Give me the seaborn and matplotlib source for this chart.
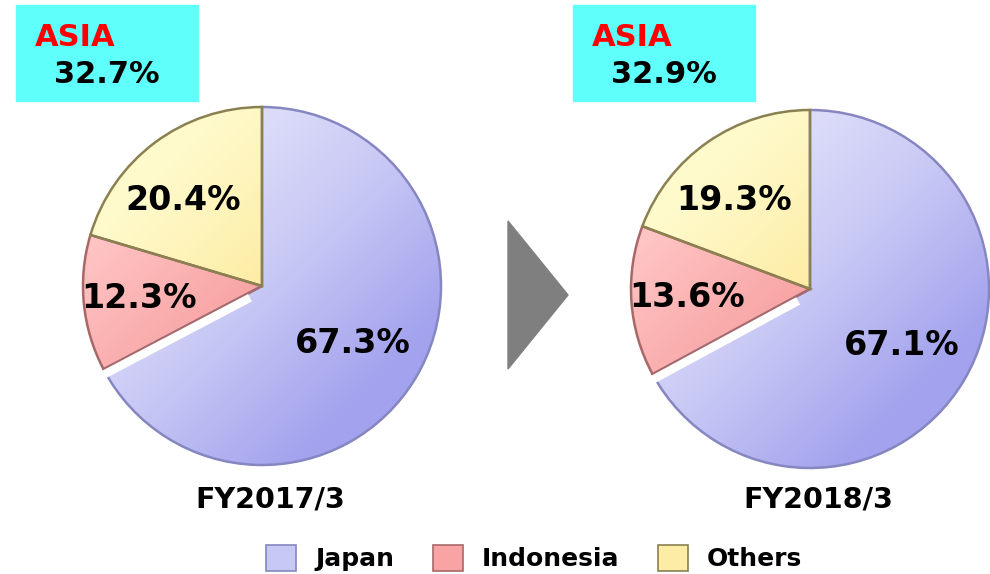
import numpy as np
import matplotlib
matplotlib.use('Agg')
import matplotlib.pyplot as plt
import seaborn as sns
from matplotlib.patches import Rectangle, Polygon, Patch
from matplotlib.colors import LinearSegmentedColormap

sns.set_theme(style='white')
plt.rcParams['font.family'] = ['DejaVu Sans']
plt.rcParams['font.weight'] = 'bold'
plt.rcParams['text.color'] = 'black'

# data
regions = ['Japan', 'Indonesia', 'Others']
years = ['FY2017/3', 'FY2018/3']
share_2017 = [67.3, 12.3, 20.4]
share_2018 = [67.1, 13.6, 19.3]
asia_share = [32.7, 32.9]

# colours (light / base / dark end of the shading)
base_colors = ['#c8c8f5', '#f8a4a4', '#fdeca4']
light_colors = ['#e2e2fb', '#ffc4c4', '#fffacc']
dark_colors = ['#a2a2ee', '#ea8e8e', '#f4dc84']
edge_colors = ['#8686c0', '#a86868', '#8a8050']

W, H = 990, 574
fig = plt.figure(figsize=(W / 100, H / 100), dpi=100)

pie_centers = [(262, 286), (810, 289)]
pie_radius = 179
label_r = [0.60, 0.69, 0.65]
label_dang = [-1, 0, 6]

def fig_axes(cx, cy, r, pad=1.1):
    w = 2 * pad * r
    return fig.add_axes([(cx - pad * r) / W, 1 - (cy + pad * r) / H, w / W, w / H])

yy, xx = np.mgrid[-1.1:1.1:300j, -1.1:1.1:300j]
grad = np.clip((xx - yy) / 2.4 + 0.5, 0, 1)  # light upper-left, dark lower-right

for i, (shares, year) in enumerate(zip([share_2017, share_2018], years)):
    cx, cy = pie_centers[i]
    ax = fig_axes(cx, cy, pie_radius)
    wedges, _ = ax.pie(shares, colors=base_colors, startangle=90, counterclock=False,
                       wedgeprops=dict(edgecolor='none', linewidth=0))
    for k, w in enumerate(wedges):
        cmap = LinearSegmentedColormap.from_list('g', [light_colors[k], base_colors[k], dark_colors[k]])
        im = ax.imshow(grad, cmap=cmap, extent=[-1.1, 1.1, -1.1, 1.1], origin='lower',
                       zorder=w.get_zorder() + 0.1, interpolation='bilinear')
        im.set_clip_path(w)
        w.set_facecolor('none')
        w.set_edgecolor(edge_colors[k])
        w.set_linewidth(1.8)
        w.set_zorder(im.get_zorder() + 0.1)
        ang = np.deg2rad((w.theta1 + w.theta2) / 2 + label_dang[k])
        ax.text(label_r[k] * np.cos(ang), label_r[k] * np.sin(ang),
                f'{shares[k]:.1f}%', ha='center', va='center', fontsize=24,
                fontweight='bold', color='black', zorder=10)

    # white gap between Japan and Indonesia (cut into the Japan side)
    gap = np.deg2rad(wedges[0].theta1)
    rr = np.array([0.09, 1.08])
    off = 0.027
    ax.plot(rr * np.cos(gap) - off * np.sin(gap), rr * np.sin(gap) + off * np.cos(gap),
            color='white', lw=6, solid_capstyle='butt', zorder=5)

    ax.set_xlim(-1.1, 1.1)
    ax.set_ylim(-1.1, 1.1)
    ax.set_aspect('equal')
    ax.axis('off')

    # ASIA box
    bx = [16, 573][i]
    fig.add_artist(Rectangle((bx / W, 1 - 101 / H), 182 / W, 96 / H,
                             transform=fig.transFigure, color='#5ffffc', zorder=0))
    fig.text((bx + 19) / W, 1 - 37 / H, 'ASIA', color='#ff0000', fontsize=22,
             fontweight='bold', ha='left', va='center')
    fig.text((bx + 38) / W, 1 - 74 / H, f'{asia_share[i]:.1f}%', color='black',
             fontsize=22, fontweight='bold', ha='left', va='center')

    fig.text((cx + 8) / W, 1 - 500 / H, year, fontsize=20.5, fontweight='bold',
             ha='center', va='center', color='black')

# arrow between the pies
fig.add_artist(Polygon([(508 / W, 1 - 221 / H), (508 / W, 1 - 369 / H), (568 / W, 1 - 295 / H)],
                       closed=True, transform=fig.transFigure, color='#7f7f7f'))

handles = [Patch(facecolor=base_colors[k], edgecolor=edge_colors[k], linewidth=1.2)
           for k in range(len(regions))]
leg = fig.legend(handles, regions, loc='center', bbox_to_anchor=(534 / W, 1 - 558 / H),
                 ncol=3, frameon=False, fontsize=18, handlelength=1.2, handleheight=1.2,
                 handletextpad=0.75, columnspacing=1.55)
for t in leg.get_texts():
    t.set_fontweight('bold')
    t.set_color('black')

fig.savefig('out.png', dpi=100)
